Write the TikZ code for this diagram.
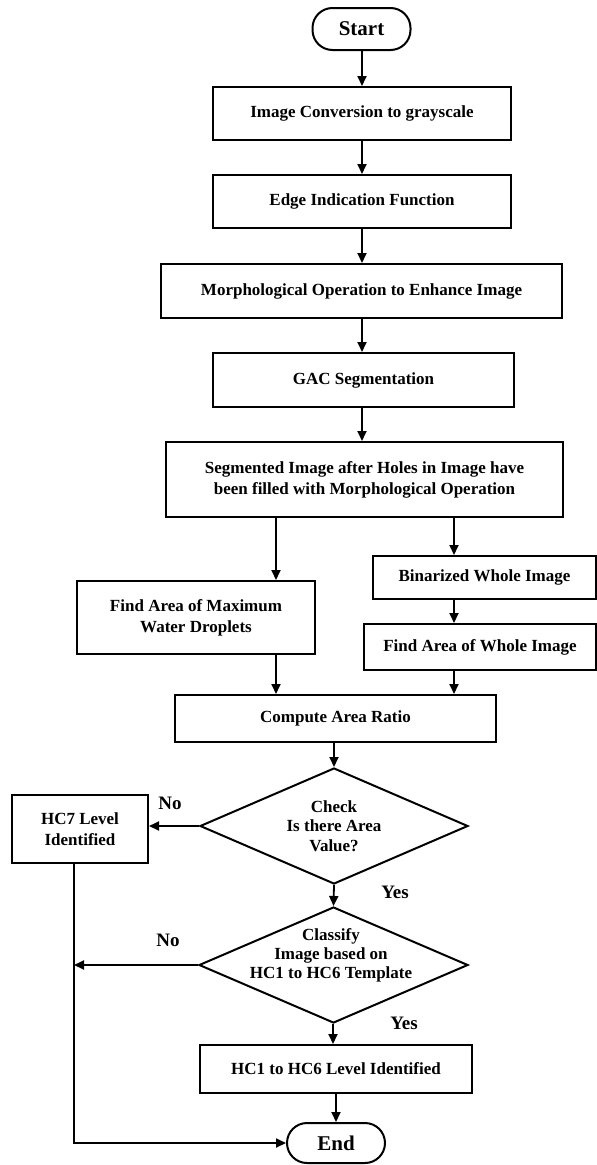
\documentclass[tikz,border=0pt]{standalone}
\usepackage{fontspec}
\setmainfont{Liberation Serif}
\usetikzlibrary{arrows.meta,shapes.geometric}
\begin{document}
\begin{tikzpicture}[x=1pt,y=-1pt,
  every node/.style={font=\fontsize{17}{21}\selectfont\bfseries, inner sep=0pt, align=center},
  box/.style={draw, line width=2pt, rectangle},
  term/.style={draw, line width=2pt, rectangle, rounded corners=20pt, font=\fontsize{21}{24}\selectfont\bfseries},
  dec/.style={draw, line width=2pt, diamond, aspect=2.3, inner sep=-10pt, font=\fontsize{17}{19.5}\selectfont\bfseries},
  dectxt/.style={font=\fontsize{17}{19}\selectfont\bfseries},
  lbl/.style={font=\fontsize{19}{22}\selectfont\bfseries},
  arr/.style={line width=1.8pt, -{Triangle[width=9pt,length=10pt]}}
]
\path[use as bounding box] (0,0) rectangle (597,1165);

\node[term, minimum width=98pt, minimum height=42pt] (start) at (361.5,29) {Start};
\node[box, minimum width=298pt, minimum height=53pt] (conv) at (362,113.5) {Image Conversion to grayscale};
\node[box, minimum width=298pt, minimum height=53pt] (edge) at (362,201.5) {Edge Indication Function};
\node[box, minimum width=401pt, minimum height=54pt] (morph) at (361.5,291) {Morphological Operation to Enhance Image};
\node[box, minimum width=301pt, minimum height=54pt] (gac) at (363.5,380) {GAC Segmentation};
\node[box, minimum width=397pt, minimum height=75pt] (seg) at (364.5,479.5) {Segmented Image after Holes in Image have\\been filled with Morphological Operation};
\node[box, minimum width=238pt, minimum height=73pt] (findmax) at (196,617.5) {Find Area of Maximum\\Water Droplets};
\node[box, minimum width=223pt, minimum height=43pt] (bin) at (484.5,577.5) {Binarized Whole Image};
\node[box, minimum width=232pt, minimum height=46pt] (findwhole) at (480,647) {Find Area of Whole Image};
\node[box, minimum width=321pt, minimum height=47pt] (compute) at (335.5,718.5) {Compute Area Ratio};
\node[dec, minimum width=268pt, minimum height=116pt] (check) at (334,826) {Check\\Is there Area\\Value?};
\node[dec, minimum width=269pt, minimum height=116pt] (classify) at (333.5,965) {};
\node[dectxt] (classifytxt) at (331,955) {Classify\\Image based on\\HC1 to HC6 Template};
\node[box, minimum width=272pt, minimum height=48pt] (hc16) at (336,1069) {HC1 to HC6 Level Identified};
\node[term, minimum width=98pt, minimum height=40pt] (end) at (336,1143) {End};
\node[box, minimum width=136pt, minimum height=68pt] (hc7) at (80,829) {HC7 Level\\Identified};

\coordinate (xl) at (276,0);
\coordinate (xr) at (454,0);
\coordinate (xc) at (333,0);
\coordinate (xm) at (362,0);
\coordinate (xv) at (74,0);

\draw[arr] (xm |- start.south) -- (xm |- conv.north);
\draw[arr] (xm |- conv.south) -- (xm |- edge.north);
\draw[arr] (xm |- edge.south) -- (xm |- morph.north);
\draw[arr] (xm |- morph.south) -- (xm |- gac.north);
\draw[arr] (xm |- gac.south) -- (xm |- seg.north);
\draw[arr] (xl |- seg.south) -- (xl |- findmax.north);
\draw[arr] (xr |- seg.south) -- (xr |- bin.north);
\draw[arr] (xr |- bin.south) -- (xr |- findwhole.north);
\draw[arr] (xl |- findmax.south) -- (xl |- compute.north);
\draw[arr] (xr |- findwhole.south) -- (xr |- compute.north);
\draw[arr] (check.north |- compute.south) -- (check.north);
\draw[arr] (check.west) -- (hc7.east |- check.west);
\draw[arr] (check.south) -- (classify.north);
\draw[arr] (xc |- classify.south) -- (xc |- hc16.north);
\draw[arr] (hc16.south -| end.north) -- (end.north);
\draw[arr] (xv |- hc7.south) |- (end.west);
\draw[arr] (classify.west) -- (xv |- classify.west);

\node[lbl] (no1) at (170,803) {No};
\node[lbl] (yes1) at (395,892) {Yes};
\node[lbl] (no2) at (168,940) {No};
\node[lbl] (yes2) at (404,1023) {Yes};
\end{tikzpicture}
\end{document}
